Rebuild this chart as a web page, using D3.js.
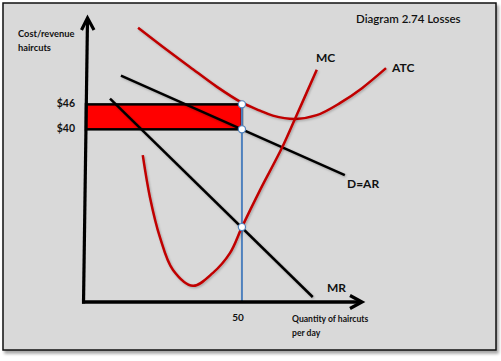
<!DOCTYPE html>
<html>
<head>
<meta charset="utf-8">
<script src="https://cdn.jsdelivr.net/npm/d3@7"></script>
<style>
  html, body { margin: 0; padding: 0; background: #ffffff; }
  svg { display: block; }
  text { font-family: Lato, "Open Sans", sans-serif; fill: #111; }
</style>
</head>
<body>
<svg id="chart" width="501" height="361"></svg>
<script>
// ---- data (quantity, price) ----
const title = "Diagram 2.74 Losses";
const yAxisTitle = ["Cost/revenue", "haircuts"];
const xAxisTitle = ["Quantity of haircuts", "per day"];
const priceTicks = [46, 40];
const priceTickLabels = ["$46", "$40"];
const quantityTicks = [50];
const quantityTickLabels = ["50"];

const mcQ = [18.2, 20.5, 23.7, 27.9, 34.3, 40.7, 46.2, 50, 55.8, 62.8, 67.0, 74.0];
const mcP = [33.8, 23.7, 14.1, 6.2, 2.4, 5.5, 10.3, 16.5, 25.4, 35.5, 42.5, 54.3];
const atcQ = [16.7, 24.7, 33.3, 42.0, 50, 55.8, 59.9, 67.0, 74.0, 81.4, 88.5, 96.2];
const atcP = [64.4, 59.8, 55.0, 50.2, 46.4, 44.5, 43.3, 42.5, 43.4, 46.3, 49.9, 54.7];
const demandQ = [11.2, 83.0];
const demandP = [52.9, 29.0];
const mrQ = [7.7, 72.7];
const mrP = [47.4, -0.3];
const markQ = [50, 50, 50];
const markP = [46, 40, 16.5];
const lossQ = [0, 50];
const lossP = [40, 46];

const zip = (a, b) => a.map((v, i) => [v, b[i]]);

const svg = d3.select("#chart");

// scales
const x = d3.scaleLinear().domain([0, 88.5]).range([86, 362]);
const y = d3.scaleLinear().domain([-1.5, 67]).range([302, 17]);

// defs
const defs = svg.append("defs");
const sh = defs.append("filter").attr("id", "sh").attr("x", "-10%").attr("y", "-10%").attr("width", "130%").attr("height", "130%");
sh.append("feDropShadow").attr("dx", 1).attr("dy", 1.2).attr("stdDeviation", 0.8)
  .attr("flood-color", "#000").attr("flood-opacity", 0.25);
const ps = defs.append("filter").attr("id", "ps").attr("x", "-5%").attr("y", "-5%").attr("width", "115%").attr("height", "115%");
ps.append("feDropShadow").attr("dx", 2).attr("dy", 3).attr("stdDeviation", 1.5)
  .attr("flood-color", "#000").attr("flood-opacity", 0.35);

// panel
svg.append("rect").attr("x", 3).attr("y", 3).attr("width", 493).attr("height", 347)
  .attr("fill", "#d9d9d9").attr("stroke", "#111").attr("stroke-width", 1.5)
  .attr("filter", "url(#ps)");

// loss rectangle
svg.append("rect")
  .attr("x", x(lossQ[0])).attr("y", y(lossP[1]))
  .attr("width", x(lossQ[1]) - x(lossQ[0]))
  .attr("height", y(lossP[0]) - y(lossP[1]))
  .attr("fill", "#ff0000").attr("stroke", "#000").attr("stroke-width", 2.5);

// vertical quantity line
svg.append("line")
  .attr("x1", x(quantityTicks[0])).attr("x2", x(quantityTicks[0]))
  .attr("y1", y(priceTicks[0])).attr("y2", y.range()[0])
  .attr("stroke", "#4f81bd").attr("stroke-width", 2);

const line = d3.line().x(d => x(d[0])).y(d => y(d[1]));
const curve = d3.line().x(d => x(d[0])).y(d => y(d[1])).curve(d3.curveCatmullRom.alpha(0.5));

// demand & MR
svg.append("path").attr("d", line(zip(demandQ, demandP))).attr("fill", "none")
  .attr("stroke", "#000").attr("stroke-width", 2.5).attr("filter", "url(#sh)");
svg.append("path").attr("d", line(zip(mrQ, mrP))).attr("fill", "none")
  .attr("stroke", "#000").attr("stroke-width", 2.5).attr("filter", "url(#sh)");

// ATC & MC
svg.append("path").attr("d", curve(zip(atcQ, atcP))).attr("fill", "none")
  .attr("stroke", "#c00000").attr("stroke-width", 2.5).attr("filter", "url(#sh)");
svg.append("path").attr("d", curve(zip(mcQ, mcP))).attr("fill", "none")
  .attr("stroke", "#c00000").attr("stroke-width", 2.5).attr("filter", "url(#sh)");

// axes
const [x0, x1] = x.range();
const [yb, yt] = y.range();
svg.append("line").attr("x1", 83.5).attr("y1", yb + 1.5).attr("x2", 87.5).attr("y2", yt + 2)
  .attr("stroke", "#000").attr("stroke-width", 3.2);
svg.append("path").attr("d", `M81.5,${yt + 13} L87.5,${yt + 1} L94,${yt + 13}`)
  .attr("fill", "none").attr("stroke", "#000").attr("stroke-width", 3.2).attr("stroke-linejoin", "miter");
svg.append("line").attr("x1", 82).attr("y1", yb).attr("x2", x1 - 1).attr("y2", yb)
  .attr("stroke", "#000").attr("stroke-width", 3.4);
svg.append("path").attr("d", `M${x1 - 12},${yb - 6.5} L${x1},${yb} L${x1 - 12},${yb + 6.5}`)
  .attr("fill", "none").attr("stroke", "#000").attr("stroke-width", 3.2);

// intersection markers
svg.selectAll("circle.mk").data(zip(markQ, markP)).join("circle")
  .attr("class", "mk")
  .attr("cx", d => x(d[0])).attr("cy", d => y(d[1])).attr("r", 3.6)
  .attr("fill", "#fff").attr("stroke", "#4f81bd").attr("stroke-width", 1.2);

// texts
svg.append("text").attr("x", 356).attr("y", 23).attr("font-size", 11.5)
  .attr("font-weight", 600).text(title);

svg.selectAll("text.yt").data(yAxisTitle).join("text").attr("class", "yt")
  .attr("x", 18).attr("y", (d, i) => 37 + i * 14)
  .attr("font-size", 9.3).attr("font-weight", "bold").text(d => d);

svg.selectAll("text.pt").data(priceTicks).join("text").attr("class", "pt")
  .attr("x", 75).attr("y", d => y(d) + 3)
  .attr("text-anchor", "end").attr("font-size", 10.5).attr("font-weight", "bold")
  .text((d, i) => priceTickLabels[i]);

svg.selectAll("text.qt").data(quantityTicks).join("text").attr("class", "qt")
  .attr("x", d => x(d) - 4).attr("y", 321)
  .attr("text-anchor", "middle").attr("font-size", 10).attr("font-weight", "bold")
  .text((d, i) => quantityTickLabels[i]);

svg.selectAll("text.xt").data(xAxisTitle).join("text").attr("class", "xt")
  .attr("x", 292).attr("y", (d, i) => 322 + i * 14)
  .attr("font-size", 8.6).attr("font-weight", "bold").text(d => d);

const curveLabels = [
  { t: "MC", x: 316, y: 62 },
  { t: "ATC", x: 392, y: 72 },
  { t: "D=AR", x: 347, y: 188 },
  { t: "MR", x: 327, y: 292 }
];
svg.selectAll("text.cl").data(curveLabels).join("text").attr("class", "cl")
  .attr("x", d => d.x).attr("y", d => d.y)
  .attr("font-size", 12).attr("font-weight", "bold").text(d => d.t);
</script>
</body>
</html>
